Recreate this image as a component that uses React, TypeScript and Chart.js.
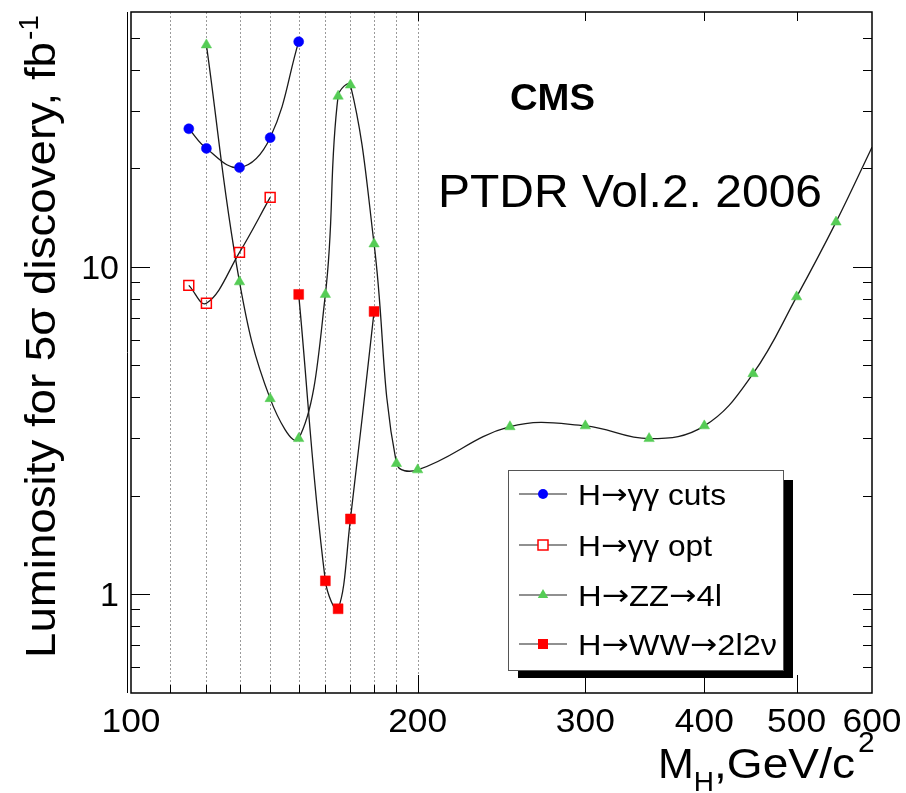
import React, { useEffect, useRef } from "react";
import { Chart, registerables } from "chart.js";
Chart.register(...registerables);

const FONT = '"Liberation Sans", Arial, Helvetica, sans-serif';
const ARROW_FONT = '"DejaVu Sans", "Liberation Sans", sans-serif';

// ---- data ----
const ggCutsMass = [115, 120, 130, 140, 150];
const ggCutsLumi = [26.4, 23.0, 20.1, 24.8, 48.7];
const ggOptMass = [115, 120, 130, 140];
const ggOptLumi = [8.78, 7.74, 11.07, 16.3];
const zzMass = [120, 130, 140, 150, 160, 165, 170, 180, 190, 200, 250, 300, 350, 400, 450, 500, 550, 600];
const zzLumi = [47.6, 9.0, 3.96, 2.99, 8.24, 33.2, 35.9, 11.75, 2.51, 2.4, 3.25, 3.27, 2.99, 3.27, 4.72, 8.1, 13.7, 23.2];
const wwMass = [150, 160, 165, 170, 180];
const wwLumi = [8.24, 1.1, 0.904, 1.7, 7.31];

const xTickValues = [100, 200, 300, 400, 500, 600];
const xTickLabels = ["100", "200", "300", "400", "500", "600"];
const xGridValues = [110, 120, 130, 140, 150, 160, 170, 180, 190, 200];
const xMajorTicks = [200, 300, 400, 500];
const yMajorValues = [1, 10];
const yMajorLabels = ["1", "10"];
const yMinorValues = [0.6, 0.7, 0.8, 0.9, 2, 3, 4, 5, 6, 7, 8, 9, 20, 30, 40, 50];
const legendLabels = ["H\u2192\u03b3\u03b3 cuts", "H\u2192\u03b3\u03b3 opt", "H\u2192ZZ\u21924l", "H\u2192WW\u21922l2\u03bd"];
const legendTextWidths = [148, 134, 144, 199];

const BLUE = "#0000ff";
const RED = "#ff0000";
const GREEN = "#55cc55";

function pts(xs: number[], ys: number[]) {
  return xs.map((x, i) => ({ x, y: ys[i] }));
}

function fitText(ctx: CanvasRenderingContext2D, text: string, x: number, y: number, font: string, align: string, target?: number) {
  ctx.font = font;
  const w = ctx.measureText(text).width;
  const sx = target ? target / w : 1;
  ctx.save();
  ctx.translate(x, y);
  ctx.scale(sx, 1);
  let ox = 0;
  if (align === "center") ox = -w / 2;
  else if (align === "right") ox = -w;
  ctx.textAlign = "left";
  ctx.textBaseline = "alphabetic";
  ctx.fillText(text, ox, 0);
  ctx.restore();
  return w * sx;
}

// draws a label, rendering arrows with a font that has a long, thin arrow glyph
function fitMixed(ctx: CanvasRenderingContext2D, text: string, x: number, y: number, size: number, target: number) {
  const parts = text.split(/(\u2192)/).filter((p) => p.length > 0);
  const fonts = parts.map((p) => (p === "\u2192" ? `${size}px ${ARROW_FONT}` : `${size}px ${FONT}`));
  const widths = parts.map((p, i) => {
    ctx.font = fonts[i];
    return ctx.measureText(p).width;
  });
  const total = widths.reduce((s, w) => s + w, 0);
  const sx = target / total;
  ctx.save();
  ctx.translate(x, y);
  ctx.scale(sx, 1);
  ctx.textAlign = "left";
  ctx.textBaseline = "alphabetic";
  let cx = 0;
  parts.forEach((p, i) => {
    ctx.font = fonts[i];
    ctx.fillText(p, cx, p === "\u2192" ? -1 : 0);
    cx += widths[i];
  });
  ctx.restore();
}

function line(ctx: CanvasRenderingContext2D, x1: number, y1: number, x2: number, y2: number) {
  ctx.beginPath();
  ctx.moveTo(x1, y1);
  ctx.lineTo(x2, y2);
  ctx.stroke();
}

function marker(ctx: CanvasRenderingContext2D, kind: string, x: number, y: number) {
  ctx.save();
  ctx.lineWidth = 1.5;
  if (kind === "circle") {
    ctx.fillStyle = BLUE;
    ctx.beginPath();
    ctx.arc(x, y, 5, 0, Math.PI * 2);
    ctx.fill();
  } else if (kind === "open") {
    ctx.fillStyle = "#fff";
    ctx.strokeStyle = RED;
    ctx.fillRect(x - 5, y - 5, 10, 10);
    ctx.strokeRect(x - 5, y - 5, 10, 10);
  } else if (kind === "tri") {
    ctx.fillStyle = GREEN;
    const r = 6;
    ctx.beginPath();
    for (let k = 0; k < 3; k++) {
      const a = (k * 2 * Math.PI) / 3;
      const px = x + Math.sin(a) * r;
      const py = y - Math.cos(a) * r;
      if (k === 0) ctx.moveTo(px, py);
      else ctx.lineTo(px, py);
    }
    ctx.closePath();
    ctx.fill();
  } else {
    ctx.fillStyle = RED;
    ctx.fillRect(x - 5, y - 5, 10, 10);
  }
  ctx.restore();
}

const rootPlugin = {
  id: "rootStyle",
  beforeDatasetsDraw(chart: any) {
    const { ctx, chartArea: a, scales } = chart;
    const x = scales.x;
    ctx.save();
    ctx.strokeStyle = "#9a9a9a";
    ctx.lineWidth = 1;
    ctx.setLineDash([2, 2]);
    for (const v of xGridValues) {
      const px = Math.round(x.getPixelForValue(v)) + 0.5;
      line(ctx, px, a.top, px, a.bottom);
    }
    ctx.restore();
  },
  afterDatasetsDraw(chart: any) {
    const { ctx, chartArea: a, scales } = chart;
    const x = scales.x;
    const y = scales.y;
    ctx.save();
    ctx.strokeStyle = "#000";
    ctx.lineWidth = 1;
    for (const v of yMajorValues) {
      const py = Math.round(y.getPixelForValue(v)) + 0.5;
      line(ctx, a.left, py, a.left + 19, py);
      line(ctx, a.right, py, a.right - 19, py);
    }
    for (const v of yMinorValues) {
      const py = Math.round(y.getPixelForValue(v)) + 0.5;
      line(ctx, a.left, py, a.left + 9, py);
      line(ctx, a.right, py, a.right - 9, py);
    }
    for (const v of xGridValues) {
      if (xMajorTicks.includes(v)) continue;
      const px = Math.round(x.getPixelForValue(v)) + 0.5;
      line(ctx, px, a.bottom, px, a.bottom - 8);
    }
    for (const v of xMajorTicks) {
      const px = Math.round(x.getPixelForValue(v)) + 0.5;
      line(ctx, px, a.bottom, px, a.bottom - 18);
      line(ctx, px, a.top, px, a.top + 9);
    }
    ctx.lineWidth = 1.5;
    ctx.strokeRect(a.left, a.top, a.right - a.left, a.bottom - a.top);
    ctx.lineWidth = 1;
    line(ctx, a.left - 3.5, a.top, a.left - 3.5, a.bottom);
    ctx.restore();
  },
  afterDraw(chart: any) {
    const { ctx, scales } = chart;
    const x = scales.x;
    const y = scales.y;
    ctx.save();
    ctx.fillStyle = "#000";
    xTickValues.forEach((v, i) => {
      fitText(ctx, xTickLabels[i], x.getPixelForValue(v), 732, `34px ${FONT}`, "center", 59);
    });
    yMajorValues.forEach((v, i) => {
      fitText(ctx, yMajorLabels[i], 119, y.getPixelForValue(v) + 12, `34px ${FONT}`, "right");
    });
    // x title
    let cx = 658;
    cx += fitText(ctx, "M", cx, 778, `43px ${FONT}`, "left");
    cx += fitText(ctx, "H", cx, 791, `28px ${FONT}`, "left");
    cx += fitText(ctx, ",GeV/c", cx, 778, `43px ${FONT}`, "left", 855 - cx);
    fitText(ctx, "2", cx + 3, 752, `30px ${FONT}`, "left");
    // y title
    ctx.save();
    ctx.translate(55, 658);
    ctx.rotate(-Math.PI / 2);
    const tw = fitText(ctx, "Luminosity for 5\u03c3 discovery, fb", 0, 0, `43px ${FONT}`, "left", 616);
    fitText(ctx, "-1", tw + 2, -17, `28px ${FONT}`, "left");
    ctx.restore();
    // annotations
    fitText(ctx, "CMS", 510, 110, `bold 36px ${FONT}`, "left", 85);
    fitText(ctx, "PTDR Vol.2. 2006", 438, 207, `46px ${FONT}`, "left", 384);
    // legend
    const L = 508, T = 470, R = 783, B = 670;
    ctx.fillStyle = "#000";
    ctx.fillRect(L + 10, T + 10, R - L, B - T - 2);
    ctx.fillStyle = "#fff";
    ctx.fillRect(L, T, R - L, B - T);
    ctx.strokeStyle = "#555";
    ctx.lineWidth = 1;
    ctx.strokeRect(L + 0.5, T + 0.5, R - L, B - T);
    const rows = [494, 545, 595, 644];
    const kinds = ["circle", "open", "tri", "square"];
    rows.forEach((ry, i) => {
      ctx.strokeStyle = "#222";
      ctx.lineWidth = 1.2;
      line(ctx, 519, ry, 567, ry);
      marker(ctx, kinds[i], 543, ry);
      ctx.fillStyle = "#000";
      fitMixed(ctx, legendLabels[i], 578, ry + 10.5, 29, legendTextWidths[i]);
    });
    ctx.restore();
  },
};

export default function App() {
  const ref = useRef<HTMLCanvasElement | null>(null);
  useEffect(() => {
    if (!ref.current) return;
    const lineStyle = { borderColor: "#1a1a1a", borderWidth: 1.3, tension: 0.4, fill: false };
    const chart = new Chart(ref.current, {
      type: "line",
      data: {
        datasets: [
          {
            ...lineStyle,
            label: legendLabels[0],
            data: pts(ggCutsMass, ggCutsLumi),
            pointStyle: "circle",
            pointRadius: 5,
            pointBackgroundColor: BLUE,
            pointBorderColor: BLUE,
            pointBorderWidth: 0.5,
          },
          {
            ...lineStyle,
            label: legendLabels[1],
            data: pts(ggOptMass, ggOptLumi),
            pointStyle: "rect",
            pointRadius: 7,
            pointBackgroundColor: "rgba(255,255,255,0)",
            pointBorderColor: RED,
            pointBorderWidth: 1.5,
          },
          {
            ...lineStyle,
            label: legendLabels[2],
            data: pts(zzMass, zzLumi),
            pointStyle: "triangle",
            pointRadius: (c: any) => (c.raw && c.raw.x >= 600 ? 0 : 6),
            pointBackgroundColor: GREEN,
            pointBorderColor: GREEN,
            pointBorderWidth: 0.5,
          },
          {
            ...lineStyle,
            label: legendLabels[3],
            data: pts(wwMass, wwLumi),
            pointStyle: "rect",
            pointRadius: 7,
            pointBackgroundColor: RED,
            pointBorderColor: RED,
            pointBorderWidth: 0.5,
          },
        ],
      },
      options: {
        responsive: false,
        animation: false,
        devicePixelRatio: 1,
        events: [],
        layout: { padding: { left: 131, right: 34, top: 12, bottom: 100 } },
        scales: {
          x: { type: "logarithmic", min: 100, max: 600, display: false },
          y: { type: "logarithmic", min: 0.5, max: 60, display: false },
        },
        plugins: { legend: { display: false }, tooltip: { enabled: false } },
      },
      plugins: [rootPlugin],
    } as any);
    return () => chart.destroy();
  }, []);
  return (
    <div style={{ position: "absolute", left: 0, top: 0, width: 906, height: 793, background: "#fff" }}>
      <canvas ref={ref} width={906} height={793} />
    </div>
  );
}
